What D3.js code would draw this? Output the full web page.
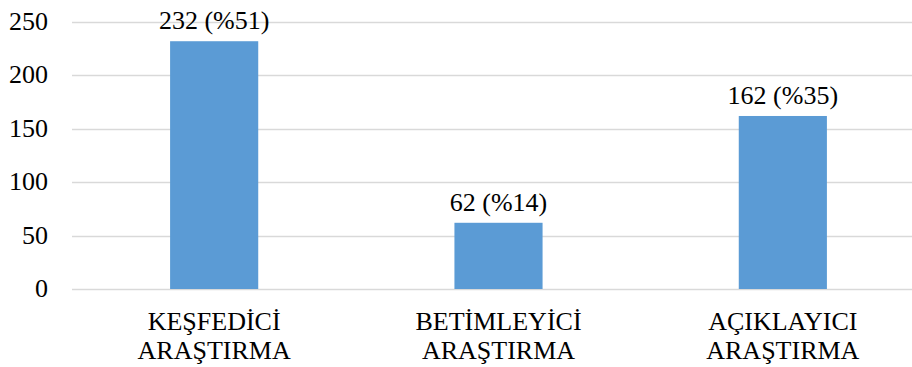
<!DOCTYPE html>
<html>
<head>
<meta charset="utf-8">
<script src="https://cdn.jsdelivr.net/npm/d3@7"></script>
<style>
  html, body { margin: 0; padding: 0; background: #fff; }
  svg { display: block; }
</style>
</head>
<body>
<svg id="chart" width="912" height="367"></svg>
<script>
// Research types and their counts
const categories = [["KEŞFEDİCİ", "ARAŞTIRMA"], ["BETİMLEYİCİ", "ARAŞTIRMA"], ["AÇIKLAYICI", "ARAŞTIRMA"]];
const values = [232, 62, 162];
const percents = [51, 14, 35];
const yTicks = [0, 50, 100, 150, 200, 250];

const fontFamily = '"Liberation Serif"';
const fontSize = 26;
const svg = d3.select("#chart");

const x = d3.scaleBand()
  .domain(d3.range(categories.length))
  .range([72, 925])
  .paddingInner(0.69)
  .paddingOuter(0.345);

const y = d3.scaleLinear()
  .domain([0, 250])
  .range([289, 22]);

// Horizontal gridlines
svg.append("g")
  .selectAll("line")
  .data(yTicks)
  .join("line")
  .attr("x1", 72)
  .attr("x2", 912)
  .attr("y1", d => Math.round(y(d)) + 0.5)
  .attr("y2", d => Math.round(y(d)) + 0.5)
  .attr("stroke", "#d9d9d9")
  .attr("stroke-width", 1.3);

// Y axis labels
svg.append("g")
  .selectAll("text")
  .data(yTicks)
  .join("text")
  .attr("x", 48)
  .attr("y", d => y(d) + 8)
  .attr("text-anchor", "end")
  .attr("fill", "#000")
  .style("font-family", fontFamily)
  .style("font-size", fontSize + "px")
  .text(d => d);

// Bars
svg.append("g")
  .selectAll("rect")
  .data(values)
  .join("rect")
  .attr("x", (d, i) => x(i))
  .attr("y", d => y(d))
  .attr("width", x.bandwidth())
  .attr("height", d => y(0) - y(d))
  .attr("fill", "#5b9bd5");

// Value labels
svg.append("g")
  .selectAll("text")
  .data(values)
  .join("text")
  .attr("x", (d, i) => x(i) + x.bandwidth() / 2)
  .attr("y", d => y(d) - 12)
  .attr("text-anchor", "middle")
  .attr("fill", "#000")
  .style("font-family", fontFamily)
  .style("font-size", fontSize + "px")
  .text((d, i) => `${d} (%${percents[i]})`);

// Category labels (two lines each)
const cat = svg.append("g")
  .selectAll("text")
  .data(categories)
  .join("text")
  .attr("text-anchor", "middle")
  .attr("fill", "#000")
  .style("font-family", fontFamily)
  .style("font-size", fontSize + "px");

cat.selectAll("tspan")
  .data((d, i) => d.map(line => ({ line, i })))
  .join("tspan")
  .attr("x", d => x(d.i) + x.bandwidth() / 2)
  .attr("y", (d, j) => 330 + j * 29)
  .text(d => d.line);
</script>
</body>
</html>
